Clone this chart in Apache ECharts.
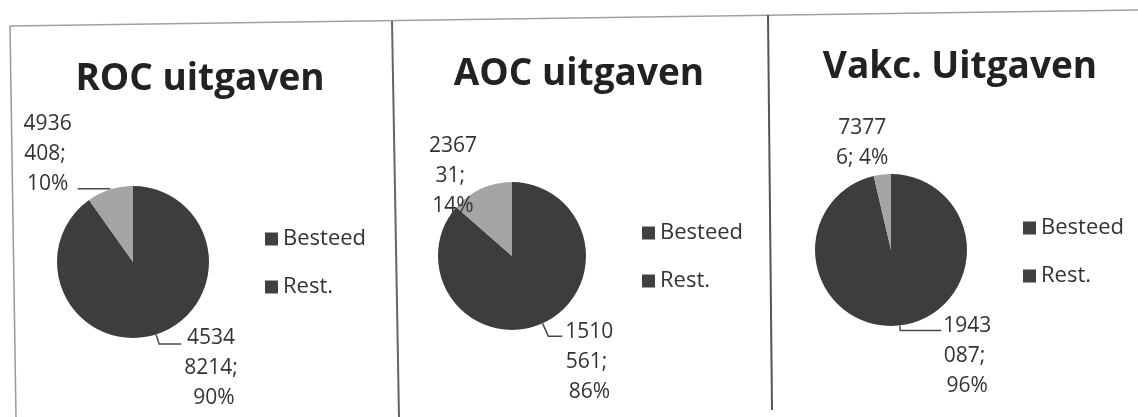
<!DOCTYPE html>
<html><head><meta charset="utf-8">
<script src="https://cdn.jsdelivr.net/npm/echarts@6/dist/echarts.min.js"></script>
<style>html,body{margin:0;padding:0;background:#fff}#c{width:1138px;height:417px}</style>
</head><body><div id="c"></div>
<script>
// ---- data ----
const categories = ['Besteed', 'Rest.'];
const titles = ['ROC uitgaven', 'AOC uitgaven', 'Vakc. Uitgaven'];
const rocValues = [45348214, 4936408];
const aocValues = [1510561, 236731];
const vakcValues = [1943087, 73776];

// ---- styling / layout ----
const FONT = "'Open Sans', 'Noto Sans', sans-serif";
const SLICE = ['#3d3d3d', '#a4a4a4'];
const LEGEND_ICON = '#404040';
const TEXT = '#333333';

const panels = [
  { values: rocValues, title: titles[0], center: [133, 262], r: 76, titlePos: [195, 56], legendPos: [265, 228],
    lab: [ {len: 10, len2: 22, show: true, off: [30, 24]}, {len: 1, len2: 32, show: true, off: [-30, -35]} ] },
  { values: aocValues, title: titles[1], center: [512, 256], r: 74, titlePos: [574, 51], legendPos: [642, 222],
    lab: [ {len: 14, len2: 14, show: true, off: [27, 26]}, {len: 1, len2: 2, show: false, off: [-26, -12]} ] },
  { values: vakcValues, title: titles[2], center: [891, 250], r: 76, titlePos: [955, 44], legendPos: [1023, 217],
    lab: [ {len: 5, len2: 41, show: true, off: [26, 26]}, {len: 1, len2: 2, show: false, off: [-18, -30]} ] }
];

const chart = echarts.init(document.getElementById('c'), null, {renderer: 'canvas'});

const option = {
  backgroundColor: '#ffffff',
  animation: false,
  title: panels.map(p => ({
    text: p.title, left: p.titlePos[0], top: p.titlePos[1], textAlign: 'center',
    textStyle: {fontFamily: FONT, fontSize: 37, fontWeight: 'bold', color: '#222222'}
  })),
  legend: panels.map(p => ({
    orient: 'vertical', left: p.legendPos[0], top: p.legendPos[1], padding: 0,
    itemGap: 26, itemWidth: 13, itemHeight: 13, icon: 'rect', selectedMode: false,
    itemStyle: {color: LEGEND_ICON},
    textStyle: {fontFamily: FONT, fontSize: 22, color: TEXT},
    data: categories.slice()
  })),
  graphic: [
    {type: 'line', shape: {x1: 10, y1: 26, x2: 1138, y2: 10}, style: {stroke: '#a0a0a0', lineWidth: 1.5}},
    {type: 'line', shape: {x1: 10, y1: 26, x2: 16, y2: 417}, style: {stroke: '#9a9a9a', lineWidth: 1.5}},
    {type: 'line', shape: {x1: 392, y1: 21, x2: 399, y2: 417}, style: {stroke: '#666666', lineWidth: 2}},
    {type: 'line', shape: {x1: 768, y1: 15, x2: 772, y2: 410}, style: {stroke: '#555555', lineWidth: 2}}
  ],
  series: panels.map(p => ({
    type: 'pie', name: p.title, center: p.center, radius: p.r,
    startAngle: 90, clockwise: true, percentPrecision: 0, avoidLabelOverlap: false,
    itemStyle: {borderWidth: 0},
    label: {
      show: true, position: 'outside', width: 57, overflow: 'break',
      fontFamily: FONT, fontSize: 21, lineHeight: 30, color: TEXT,
      formatter: q => q.value + '; ' + q.percent + '%'
    },
    labelLine: {lineStyle: {color: '#4a4a4a', width: 1.5}},
    labelLayout: function (q) {
      const cfg = p.lab[q.dataIndex];
      const pts = q.labelLinePoints;
      if (!pts) return {};
      const end = pts[pts.length - 1];
      return {x: end[0] + cfg.off[0], y: end[1] + cfg.off[1], align: 'center', verticalAlign: 'middle', labelLinePoints: pts};
    },
    emphasis: {disabled: true},
    data: categories.map((c, i) => ({
      name: c, value: p.values[i],
      itemStyle: {color: SLICE[i]},
      labelLine: {length: p.lab[i].len, length2: p.lab[i].len2,
        lineStyle: {opacity: p.lab[i].show ? 1 : 0}}
    }))
  }))
};
chart.setOption(option);
</script>
</body></html>
